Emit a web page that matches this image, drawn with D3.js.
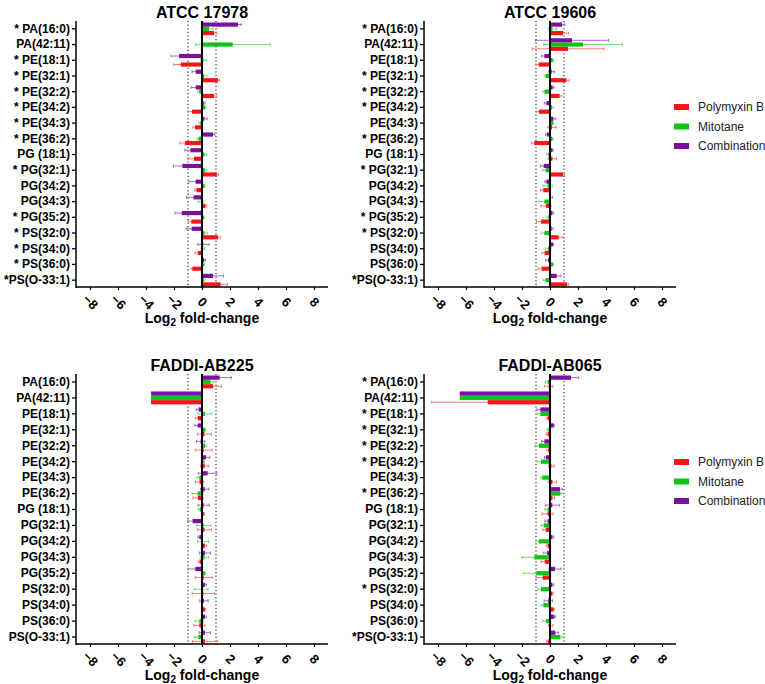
<!DOCTYPE html>
<html><head><meta charset="utf-8">
<script src="https://cdn.jsdelivr.net/npm/d3@7"></script>
<style>body{margin:0;background:#fff}svg{display:block}text{font-family:"Liberation Sans",Arial,sans-serif}</style>
</head><body>
<svg id="c" width="765" height="684"></svg>
<script>
const categories = ["PA(16:0)","PA(42:11)","PE(18:1)","PE(32:1)","PE(32:2)","PE(34:2)","PE(34:3)","PE(36:2)","PG (18:1)","PG(32:1)","PG(34:2)","PG(34:3)","PG(35:2)","PS(32:0)","PS(34:0)","PS(36:0)","PS(O-33:1)"];
const seriesNames = ["Polymyxin B","Mitotane","Combination"];
const xTicks = [-8,-6,-4,-2,0,2,4,6,8];
const panelTitles = ["ATCC 17978","ATCC 19606","FADDI-AB225","FADDI-AB065"];

// ATCC 17978
const a17978_poly    = [0.86, 0, -1.52, 1.14, 0.86, -0.71, -0.5, -1.21, -0.57, 1.05, -0.4, 0.24, -0.76, 1.14, -0.3, -0.69, 1.33];
const a17978_polyErr = [0.2, 0, 0.5, 0.12, 0.2, 0.28, 0.15, 0.38, 0.4, 0.14, 0.12, 0.1, 0.2, 0.17, 0.2, 0.1, 0.48];
const a17978_mito    = [0.5, 2.2, 0.1, 0.15, -0.2, 0.22, -0.12, -0.24, 0.17, 0.2, 0.17, -0.07, 0.12, 0.17, 0.1, 0.12, 0.12];
const a17978_mitoErr = [0.3, 2.67, 0.2, 0.2, 0.1, 0.05, 0.1, 0.1, 0.15, 0.1, 0.05, 0.2, 0.05, 0.2, 0.1, 0.05, 0.1];
const a17978_combo   = [2.57, 0, -1.64, -0.45, -0.45, 0.12, 0.17, 0.79, -0.83, -1.4, -0.45, -0.6, -1.45, -0.74, 0.1, 0.15, 0.79];
const a17978_comboErr= [0.24, 0, 0.57, 0.26, 0.33, 0.1, 0.2, 0.12, 0.4, 0.64, 0.5, 0.5, 0.48, 0.38, 0.4, 0.1, 0.74];
const a17978_stars   = [1,0,1,1,1,1,1,1,0,1,0,0,1,1,1,1,1];

// ATCC 19606
const a19606_poly    = [0.93, 1.29, -0.81, 1.17, 0.69, -0.79, 0.15, -1.12, 0.17, 0.93, -0.48, -0.29, -0.64, 0.62, -0.38, -0.6, 1.21];
const a19606_polyErr = [0.4, 2.55, 0.2, 0.2, 0.14, 0.2, 0.3, 0.2, 0.3, 0.1, 0.2, 0.36, 0.33, 0.3, 0.2, 0.24, 0.1];
const a19606_mito    = [0.17, 2.36, 0.19, -0.31, -0.4, 0.14, 0.21, 0.17, -0.12, -0.31, -0.17, -0.4, -0.12, -0.4, -0.14, 0.21, -0.33];
const a19606_mitoErr = [0.3, 2.8, 0.05, 0.1, 0.1, 0.1, 0.05, 0.05, 0.1, 0.24, 0.33, 0.4, 0.15, 0.24, 0.2, 0.05, 0.15];
const a19606_combo   = [0.86, 1.57, -0.4, 0.12, 0.19, -0.26, 0.24, -0.21, 0.17, -0.45, -0.26, 0.07, 0.17, 0.12, 0.21, -0.14, 0.48];
const a19606_comboErr= [0.21, 2.6, 0.2, 0.2, 0.1, 0.15, 0.17, 0.1, 0.05, 0.24, 0.1, 0.1, 0.1, 0.1, 0.05, 0.17, 0.3];
const a19606_stars   = [1,0,0,1,1,1,0,1,0,1,0,0,1,1,0,0,1];

// FADDI-AB225
const ab225_poly     = [0.79, -3.64, -0.31, 0.17, 0.12, 0.19, -0.17, -0.29, 0.12, 0.17, 0.21, -0.17, 0.12, 0.1, 0.21, -0.19, 0.21];
const ab225_polyErr  = [0.6, 0, 0.17, 0.5, 0.6, 0.3, 0.3, 0.36, 0.05, 0.5, 0.1, 0.1, 0.6, 0.8, 0.05, 0.4, 0.9];
const ab225_mito     = [0.6, -3.64, 0.21, 0.21, 0.21, 0.12, -0.19, -0.31, -0.17, 0.12, 0.07, 0.17, 0.21, -0.07, 0, -0.19, -0.26];
const ab225_mitoErr  = [0.24, 0, 0.5, 0.05, 0.1, 0.05, 0.17, 0.4, 0.1, 0.5, 0.4, 0.3, 0.05, 0.5, 0, 0.3, 0.3];
const ab225_combo    = [1.26, -3.64, -0.24, -0.31, -0.1, 0.29, 0.4, 0.19, 0.12, -0.67, -0.19, 0.21, -0.48, 0.21, 0.14, 0.21, 0.21];
const ab225_comboErr = [0.83, 0, 0.17, 0.2, 0.3, 0.27, 0.67, 0.3, 0.4, 0.36, 0.1, 0.4, 0.48, 0.1, 0.3, 0.1, 0.4];
const ab225_stars    = [0,0,0,0,0,0,0,0,0,0,0,0,0,0,0,0,0];

// FADDI-AB065
const ab065_poly     = [-0.1, -4.45, -0.17, -0.17, -0.12, 0.1, 0.17, 0.17, -0.17, -0.31, -0.17, -0.38, -0.52, 0.17, 0.26, 0.05, -0.14];
const ab065_polyErr  = [0.3, 4.0, 0.1, 0.1, 0.1, 0.2, 0.3, 0.15, 0.4, 0.2, 0.1, 0.26, 0.48, 0.05, 0.05, 0.15, 0.1];
const ab065_mito     = [-0.17, -6.45, -0.69, -0.12, -0.79, -0.64, -0.55, 0.74, -0.17, -0.45, -0.81, -1.12, -0.98, -0.64, -0.48, -0.29, 0.74];
const ab065_mitoErr  = [0.15, 0, 0.24, 0.1, 0.29, 0.29, 0.1, 0.1, 0.2, 0.2, 0.2, 0.88, 0.9, 0.24, 0.17, 0.24, 0.17];
const ab065_combo    = [1.5, -6.45, -0.69, 0.26, -0.4, -0.29, 0, 0.71, 0.17, -0.17, 0.17, -0.21, 0.36, 0.17, -0.12, 0.31, 0.38];
const ab065_comboErr = [0.55, 0, 0.24, 0.05, 0.2, 0.1, 0, 0.17, 0.5, 0.2, 0.1, 0.24, 0.43, 0.1, 0.3, 0.1, 0.24];
const ab065_stars    = [1,0,1,1,1,1,0,1,0,0,0,0,0,1,0,0,1];

const colors = {"Polymyxin B":"#f01818","Mitotane":"#12c312","Combination":"#7a10a0"};
const errColors = {"Polymyxin B":"#f57a7a","Mitotane":"#72dd72","Combination":"#a868c4"};

const panels = [
  {title:panelTitles[0], left:76, top:21, bottom:288, stars:a17978_stars,
   vals:[a17978_poly,a17978_mito,a17978_combo], errs:[a17978_polyErr,a17978_mitoErr,a17978_comboErr]},
  {title:panelTitles[1], left:424, top:21, bottom:288, stars:a19606_stars,
   vals:[a19606_poly,a19606_mito,a19606_combo], errs:[a19606_polyErr,a19606_mitoErr,a19606_comboErr]},
  {title:panelTitles[2], left:76, top:374, bottom:645, stars:ab225_stars,
   vals:[ab225_poly,ab225_mito,ab225_combo], errs:[ab225_polyErr,ab225_mitoErr,ab225_comboErr]},
  {title:panelTitles[3], left:424, top:374, bottom:645, stars:ab065_stars,
   vals:[ab065_poly,ab065_mito,ab065_combo], errs:[ab065_polyErr,ab065_mitoErr,ab065_comboErr]}
];

const svg = d3.select("#c");
const W = 252;
const subOrder = ["Combination","Mitotane","Polymyxin B"];

panels.forEach(p => {
  const g = svg.append("g");
  const x = d3.scaleLinear().domain([-9,9]).range([p.left, p.left+W]);
  const y = d3.scaleBand().domain(categories).range([p.top, p.bottom]).paddingInner(0.18).paddingOuter(0.09);
  const ys = d3.scaleBand().domain(subOrder).range([0, y.bandwidth()]).padding(0.02);

  const rows = [];
  categories.forEach((c,i) => {
    seriesNames.forEach((s,k) => rows.push({cat:c, s:s, v:p.vals[k][i], e:p.errs[k][i]}));
  });

  g.append("text").attr("x", x(0)).attr("y", p.top-9).attr("text-anchor","middle")
    .attr("dominant-baseline","central").attr("font-size",16).attr("font-weight","bold").attr("fill","#000").text(p.title);

  [-1,1].forEach(v => g.append("line").attr("x1",x(v)).attr("x2",x(v)).attr("y1",p.top).attr("y2",p.bottom)
    .attr("stroke","#000").attr("stroke-width",1).attr("stroke-dasharray","1.2,2.4"));

  const eb = g.append("g");
  rows.filter(r => r.e > 0).forEach(r => {
    const cy = y(r.cat) + ys(r.s) + ys.bandwidth()/2;
    eb.append("line").attr("x1", x(r.v - r.e)).attr("x2", x(r.v + r.e)).attr("y1", cy).attr("y2", cy)
      .attr("stroke", errColors[r.s]).attr("stroke-width", 1);
    [r.v - r.e, r.v + r.e].forEach(v => eb.append("line").attr("x1", x(v)).attr("x2", x(v))
      .attr("y1", cy-1.5).attr("y2", cy+1.5).attr("stroke", errColors[r.s]).attr("stroke-width", 1));
  });

  g.append("g").selectAll("rect").data(rows).join("rect")
    .attr("x", d => x(Math.min(0,d.v)))
    .attr("width", d => Math.abs(x(d.v)-x(0)))
    .attr("y", d => y(d.cat) + ys(d.s))
    .attr("height", ys.bandwidth())
    .attr("fill", d => colors[d.s]);

  g.append("line").attr("x1",x(0)).attr("x2",x(0)).attr("y1",p.top).attr("y2",p.bottom)
    .attr("stroke","#000").attr("stroke-width",2);

  const yAxis = d3.axisLeft(y).tickSize(4).tickPadding(2).tickFormat((d,i) => {
    if (!p.stars[i]) return d;
    return (d.length > 9 ? "*" : "* ") + d;
  });
  const ya = g.append("g").attr("transform",`translate(${p.left},0)`).call(yAxis);
  ya.select(".domain").attr("stroke","#000").attr("stroke-width",1.5).attr("d",`M0,${p.top}V${p.bottom}`);
  ya.selectAll(".tick line").attr("stroke","#000").attr("stroke-width",1.3);
  ya.selectAll(".tick text").attr("font-size",12).attr("font-weight","bold").attr("fill","#000")
    .attr("font-family",'"Liberation Sans",Arial,sans-serif');

  const xAxis = d3.axisBottom(x).tickValues(xTicks).tickSize(3).tickFormat(d3.format("d"));
  const xa = g.append("g").attr("transform",`translate(0,${p.bottom-1})`).call(xAxis);
  xa.select(".domain").attr("stroke","#000").attr("stroke-width",1.5).attr("d",`M${p.left},0H${p.left+W}`);
  xa.selectAll(".tick line").attr("stroke","#000").attr("stroke-width",1.2);
  xa.selectAll(".tick text").attr("font-size",13).attr("font-weight","bold").attr("fill","#000")
    .attr("font-family",'"Liberation Sans",Arial,sans-serif')
    .attr("y",0).attr("dy",0).attr("text-anchor","middle").attr("dominant-baseline","central")
    .attr("transform","translate(0,15) rotate(45)");

  const t = g.append("text").attr("x", p.left + W/2).attr("y", p.bottom + 30).attr("text-anchor","middle")
    .attr("dominant-baseline","central").attr("font-size",14).attr("font-weight","bold").attr("fill","#000");
  t.append("tspan").text("Log");
  t.append("tspan").attr("font-size",10).attr("dy",4).text("2");
  t.append("tspan").attr("dy",-4).text(" fold-change");
});

const legendTops = [107, 462];
legendTops.forEach(ly => {
  const lg = svg.append("g");
  seriesNames.forEach((s,i) => {
    const cy = ly + i*19.5;
    lg.append("rect").attr("x",674).attr("y",cy-3).attr("width",15).attr("height",6).attr("fill",colors[s]);
    lg.append("text").attr("x",698).attr("y",cy).attr("dominant-baseline","central")
      .attr("font-size",12).attr("fill","#222").text(s);
  });
});
</script>
</body></html>
